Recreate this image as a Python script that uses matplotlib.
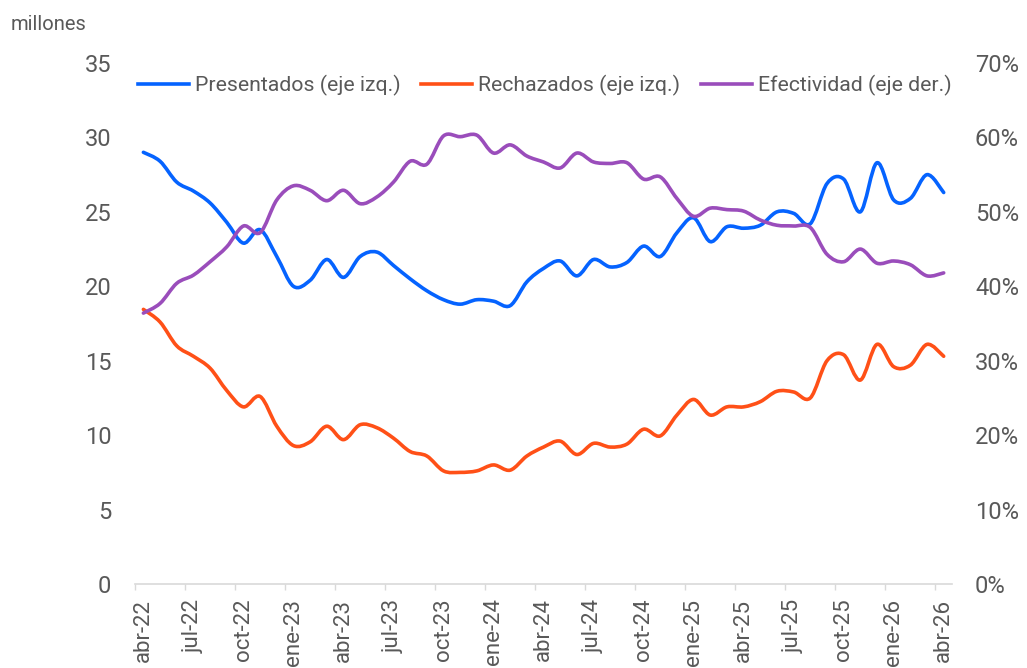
import numpy as np
import matplotlib
matplotlib.use("Agg")
import matplotlib.pyplot as plt
from matplotlib.path import Path
from matplotlib.patches import PathPatch
from matplotlib.lines import Line2D
import matplotlib.ticker as ticker

plt.rcParams['font.family'] = ['Roboto', 'DejaVu Sans']

# monthly data, abr-22 .. abr-26
months = ["abr", "may", "jun", "jul", "ago", "sep", "oct", "nov", "dic", "ene", "feb", "mar"]
labels = []
for i in range(49):
    m = months[i % 12]
    yr = 22 + (i + 3) // 12
    labels.append(f"{m}-{yr}")

presentados = [29.0, 28.4, 27.0, 26.4, 25.6, 24.3, 22.9, 23.8, 22.0, 20.0,
               20.4, 21.8, 20.6, 22.0, 22.3, 21.4, 20.5, 19.7, 19.1, 18.8,
               19.1, 19.0, 18.7, 20.3, 21.2, 21.7, 20.7, 21.8, 21.3, 21.6,
               22.7, 22.0, 23.6, 24.6, 23.0, 24.0, 23.9, 24.1, 25.0, 24.9,
               24.2, 26.9, 27.2, 25.0, 28.3, 25.8, 25.9, 27.5, 26.3]
rechazados = [18.45, 17.6, 16.0, 15.3, 14.5, 13.0, 11.9, 12.6, 10.6, 9.3,
              9.55, 10.6, 9.7, 10.7, 10.5, 9.8, 8.9, 8.6, 7.6, 7.5,
              7.6, 8.0, 7.65, 8.6, 9.2, 9.6, 8.7, 9.45, 9.2, 9.4,
              10.4, 9.95, 11.35, 12.4, 11.35, 11.9, 11.9, 12.25, 12.95, 12.9,
              12.5, 15.0, 15.4, 13.7, 16.1, 14.6, 14.7, 16.1, 15.3]
efectividad = [36.4, 37.7, 40.4, 41.5, 43.3, 45.3, 48.1, 47.2, 51.6, 53.5,
               52.9, 51.5, 52.9, 51.1, 52.0, 54.0, 56.8, 56.4, 60.2, 60.1,
               60.3, 57.9, 59.0, 57.5, 56.7, 55.9, 57.9, 56.7, 56.5, 56.6,
               54.4, 54.7, 51.8, 49.4, 50.5, 50.3, 50.1, 48.9, 48.2, 48.1,
               47.9, 44.3, 43.3, 45.0, 43.1, 43.4, 42.9, 41.4, 41.8]

c_pres = "#0563FF"
c_rech = "#FF5017"
c_efec = "#9A4DBB"
gray = "#595959"


def smooth_path(x, y):
    # Excel-style smoothed line as cubic bezier segments
    x = np.asarray(x, float)
    y = np.asarray(y, float)
    n = len(x)
    verts = [(x[0], y[0])]
    codes = [Path.MOVETO]
    for i in range(n - 1):
        x0, y0 = (x[i - 1], y[i - 1]) if i > 0 else (x[i], y[i])
        x3, y3 = (x[i + 2], y[i + 2]) if i < n - 2 else (x[i + 1], y[i + 1])
        c1 = (x[i] + (x[i + 1] - x0) / 6, y[i] + (y[i + 1] - y0) / 6)
        c2 = (x[i + 1] - (x3 - x[i]) / 6, y[i + 1] - (y3 - y[i]) / 6)
        verts += [c1, c2, (x[i + 1], y[i + 1])]
        codes += [Path.CURVE4] * 3
    return Path(verts, codes)


fig = plt.figure(figsize=(10.27, 6.68), dpi=100)
ax = fig.add_axes([0.1315, 0.1257, 0.7955, 0.780])
ax2 = ax.twinx()

xs = np.arange(len(labels))
lw = 2.6
ax.add_patch(PathPatch(smooth_path(xs, presentados), fill=False, ec=c_pres, lw=lw,
                       capstyle='round', joinstyle='round'))
ax.add_patch(PathPatch(smooth_path(xs, rechazados), fill=False, ec=c_rech, lw=lw,
                       capstyle='round', joinstyle='round'))
ax2.add_patch(PathPatch(smooth_path(xs, efectividad), fill=False, ec=c_efec, lw=lw,
                        capstyle='round', joinstyle='round'))

ax.set_xlim(-0.5, len(labels) - 0.5)
ax.set_ylim(0, 35)
ax2.set_ylim(0, 70)
ax.yaxis.set_major_locator(ticker.MultipleLocator(5))
ax2.yaxis.set_major_locator(ticker.MultipleLocator(10))
ax2.yaxis.set_major_formatter(ticker.FuncFormatter(lambda v, p: f"{v:.0f}%"))

ax.set_xticks(xs[::3])
ax.set_xticklabels(labels[::3], rotation=90)
ax.set_xticks(np.arange(-0.5, len(labels), 3), minor=True)
ax.tick_params(axis='x', which='major', length=0, pad=10.5, labelsize=16, colors=gray)
ax.tick_params(axis='x', which='minor', length=4.5, width=1, color="#D9D9D9")
ax.tick_params(axis='y', length=0, pad=17, labelsize=17, colors=gray)
ax2.tick_params(axis='y', length=0, pad=16.5, labelsize=17, colors=gray)

for a in (ax, ax2):
    for s in ("top", "left", "right"):
        a.spines[s].set_visible(False)
ax.spines["bottom"].set_color("#D9D9D9")
ax.spines["bottom"].set_linewidth(1.2)
ax2.spines["bottom"].set_visible(False)

handles = [Line2D([], [], color=c_pres, lw=lw),
           Line2D([], [], color=c_rech, lw=lw),
           Line2D([], [], color=c_efec, lw=lw)]
names = ["Presentados (eje izq.)", "Rechazados (eje izq.)", "Efectividad (eje der.)"]
leg = ax2.legend(handles, names, ncol=3, loc='upper left', bbox_to_anchor=(-0.007, 0.994),
                 frameon=False, fontsize=15.3, handlelength=2.4, handletextpad=0.3,
                 columnspacing=0.95, borderaxespad=0)
for t in leg.get_texts():
    t.set_color(gray)

fig.text(0.01, 0.964, "millones", fontsize=14.5, color=gray, va='center', ha='left')

fig.savefig("out.png", dpi=100)
